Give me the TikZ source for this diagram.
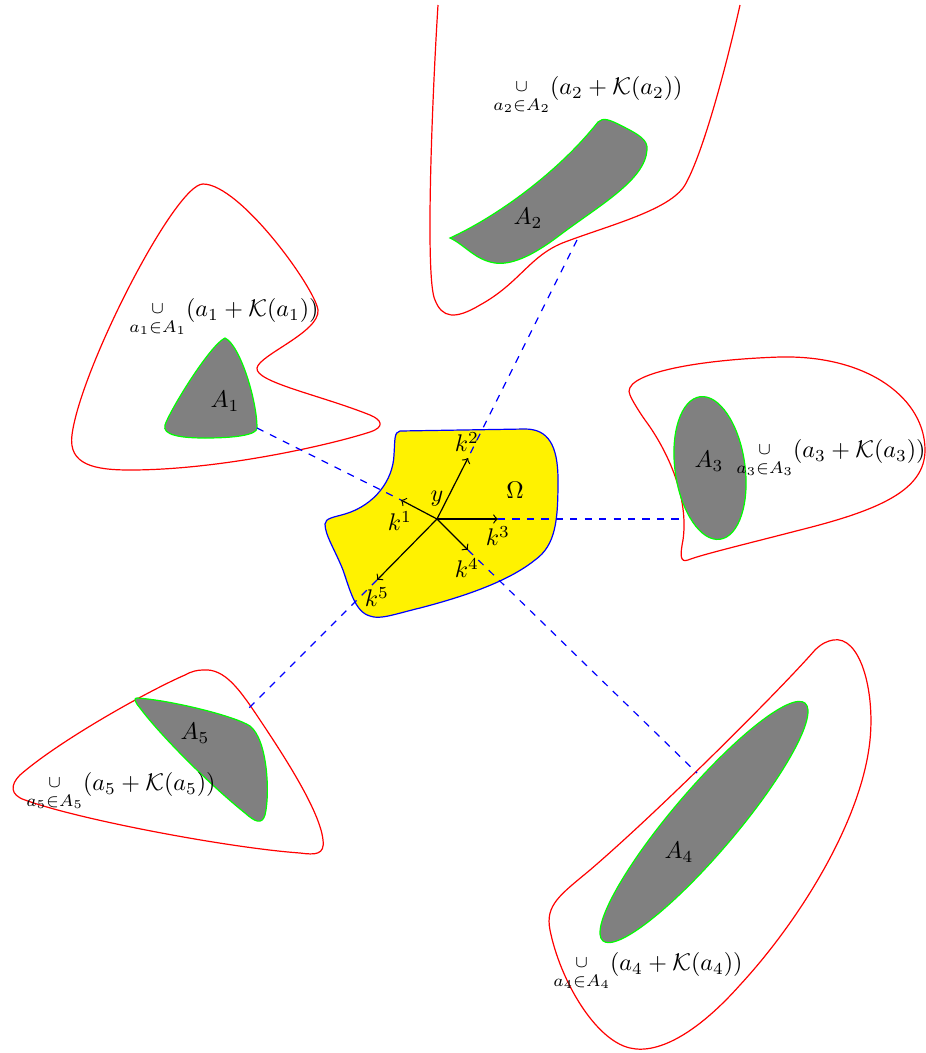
\documentclass[tikz,border=0pt]{standalone}
\usepackage{amsmath}
\newcommand{\smallcup}{\mathop{\raisebox{0.35ex}{$\scriptstyle\cup$}}\limits}
\begin{document}
\begin{tikzpicture}[x=0.0146cm,y=-0.0146cm,
  hull/.style={draw=red,line width=0.5pt},
  setA/.style={draw=green,fill=gray,line width=0.5pt},
  omega/.style={draw=blue,fill=yellow,line width=0.5pt},
  link/.style={draw=blue,dashed,line width=0.5pt},
  kvec/.style={draw=black,->,line width=0.5pt},
  lbl/.style={inner sep=0pt}]
\useasboundingbox (0,0) rectangle (926,1053);
% red hulls
\draw[hull] (203,184) .. controls (175,184) and (80,370) .. (72,435)
  .. controls (68,465) and (95,470) .. (130,470)
  .. controls (220,470) and (330,445) .. (370,432)
  .. controls (385,427) and (382,420) .. (370,415)
  .. controls (320,395) and (255,382) .. (257,368)
  .. controls (259,355) and (320,332) .. (318,310)
  .. controls (315,288) and (240,184) .. (203,184) -- cycle;
\draw[hull] (438,5) .. controls (432,100) and (425,280) .. (435,300)
  .. controls (442,318) and (455,320) .. (480,305)
  .. controls (520,283) and (530,255) .. (565,242)
  .. controls (610,225) and (670,210) .. (685,185)
  .. controls (705,150) and (730,50) .. (740,5);
\draw[hull] (630,395) .. controls (620,375) and (690,360) .. (780,357)
  .. controls (870,355) and (925,400) .. (925,450)
  .. controls (925,490) and (880,510) .. (800,530)
  .. controls (750,543) and (700,555) .. (688,560)
  .. controls (680,563) and (680,555) .. (683,540)
  .. controls (690,490) and (660,440) .. (645,420)
  .. controls (638,410) and (632,400) .. (630,395) -- cycle;
\draw[hull] (833,640) .. controls (860,635) and (875,690) .. (870,740)
  .. controls (862,820) and (800,920) .. (740,985)
  .. controls (700,1030) and (660,1055) .. (630,1048)
  .. controls (595,1040) and (560,980) .. (550,930)
  .. controls (545,905) and (560,895) .. (590,870)
  .. controls (660,810) and (780,690) .. (815,650)
  .. controls (822,643) and (828,641) .. (833,640) -- cycle;
\draw[hull] (203,670) .. controls (225,668) and (240,690) .. (260,720)
  .. controls (280,750) and (320,810) .. (323,840)
  .. controls (325,855) and (315,855) .. (300,853)
  .. controls (230,848) and (80,820) .. (25,800)
  .. controls (10,795) and (10,785) .. (20,775)
  .. controls (60,740) and (150,690) .. (185,675)
  .. controls (192,671) and (198,670) .. (203,670) -- cycle;
% gray sets
\draw[setA] (225,338) .. controls (210,345) and (170,410) .. (165,425)
  .. controls (162,435) and (180,438) .. (205,438)
  .. controls (235,438) and (257,435) .. (257,428)
  .. controls (257,400) and (240,345) .. (225,338) -- cycle;
\draw[setA] (450,238) .. controls (500,215) and (560,170) .. (598,122)
  .. controls (603,117) and (610,120) .. (620,125)
  .. controls (640,135) and (648,140) .. (647,150)
  .. controls (645,180) and (600,205) .. (560,235)
  .. controls (530,258) and (510,265) .. (495,263)
  .. controls (475,260) and (465,245) .. (450,238) -- cycle;
\draw[setA,rotate around={8:(710,468)}] (710,468) ellipse [x radius=0.511cm, y radius=1.051cm];
\draw[setA,rotate around={49.6:(704,822)}] (704,822) ellipse [x radius=2.278cm, y radius=0.467cm];
\draw[setA] (137,698) .. controls (170,700) and (235,716) .. (250,726)
  .. controls (268,740) and (270,795) .. (265,815)
  .. controls (262,825) and (255,822) .. (245,813)
  .. controls (210,785) and (160,735) .. (140,708)
  .. controls (134,701) and (134,698) .. (137,698) -- cycle;
% Omega
\draw[omega] (400,431) -- (525,429) .. controls (548,429) and (558,445) .. (558,480)
  .. controls (558,520) and (556,545) .. (535,560)
  .. controls (510,580) and (470,595) .. (420,608)
  .. controls (395,614) and (380,620) .. (370,616)
  .. controls (355,612) and (350,590) .. (343,570)
  .. controls (335,550) and (325,535) .. (325,524)
  .. controls (325,518) and (335,517) .. (345,514)
  .. controls (375,505) and (393,480) .. (394,455)
  .. controls (395,440) and (394,432) .. (400,431) -- cycle;
% points
\coordinate (y) at (437,519);
\coordinate (k1) at (401,500);
\coordinate (k2) at (468,458);
\coordinate (k3) at (498,519);
\coordinate (k4) at (468,550);
\coordinate (k5) at (377,580);
\coordinate (e1) at (257,428);
\coordinate (e2) at (577,240);
\coordinate (e3) at (683,519);
\coordinate (e4) at (697,773);
\coordinate (e5) at (247,710);
% dashed links
\draw[link] (e1) -- (k1);
\draw[link] (e2) -- (k2);
\draw[link] (k3) -- (e3);
\draw[link] (k4) -- (e4);
\draw[link] (k5) -- (e5);
% vectors
\draw[kvec] (y) -- (k1);
\draw[kvec] (y) -- (k2);
\draw[kvec] (y) -- (k3);
\draw[kvec] (y) -- (k4);
\draw[kvec] (y) -- (k5);
% labels
\node[lbl] (ly) at (437,499) {$y$};
\node[lbl] (lk1) at (400,521) {$k^1$};
\node[lbl] (lk2) at (467,442) {$k^2$};
\node[lbl] (lk3) at (498,536) {$k^3$};
\node[lbl] (lk4) at (467,568) {$k^4$};
\node[lbl] (lk5) at (377,597) {$k^5$};
\node[lbl] (lom) at (515,490) {$\Omega$};
\node[lbl] (lA1) at (225,401) {$A_1$};
\node[lbl] (lA2) at (528,218) {$A_2$};
\node[lbl] (lA3) at (709,461) {$A_3$};
\node[lbl] (lA4) at (679,852) {$A_4$};
\node[lbl] (lA5) at (195,733) {$A_5$};
\node[lbl] (u1) at (224,318) {$\smallcup_{a_1\in A_1}(a_1+\mathcal{K}(a_1))$};
\node[lbl] (u2) at (588,96) {$\smallcup_{a_2\in A_2}(a_2+\mathcal{K}(a_2))$};
\node[lbl] (u3) at (831,459) {$\smallcup_{a_3\in A_3}(a_3+\mathcal{K}(a_3))$};
\node[lbl] (u4) at (648,972) {$\smallcup_{a_4\in A_4}(a_4+\mathcal{K}(a_4))$};
\node[lbl] (u5) at (121,792) {$\smallcup_{a_5\in A_5}(a_5+\mathcal{K}(a_5))$};
\end{tikzpicture}
\end{document}
